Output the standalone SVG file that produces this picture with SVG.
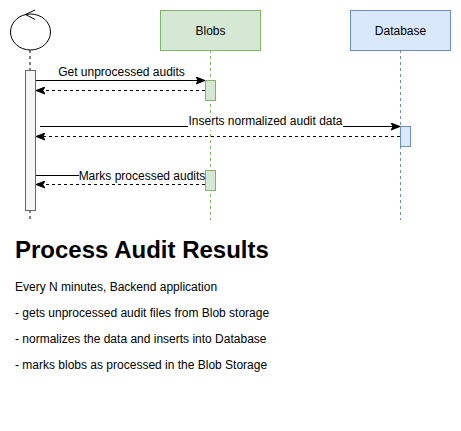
<svg xmlns="http://www.w3.org/2000/svg" width="461" height="431" viewBox="0 0 461 431">
<style>
text{font-family:"Liberation Sans",Arial,sans-serif;fill:#000}
.lbl{font-size:12px}
.box-g{fill:#d5e8d4;stroke:#82b366;stroke-width:1}
.box-b{fill:#dae8fc;stroke:#6c8ebf;stroke-width:1}
.life{fill:none;stroke-dasharray:3 3;stroke-width:1}
.msg{fill:none;stroke:#000;stroke-width:1;marker-end:url(#arr)}
.ret{fill:none;stroke:#000;stroke-width:1;stroke-dasharray:3 3;marker-end:url(#arr)}
</style>
<defs>
<marker id="arr" markerWidth="10" markerHeight="8" refX="9" refY="4" orient="auto" markerUnits="userSpaceOnUse">
<path d="M0,0.5 L9,4 L0,7.5 L2.2,4 Z" fill="#000" stroke="#000" stroke-width="1"/>
</marker>
</defs>
<rect width="461" height="431" fill="#fff"/>
<g id="control">
<ellipse cx="30.5" cy="32" rx="20" ry="18" fill="#fff" stroke="#000"/>
<polyline points="35,10 25.5,14.5 35,19.5" fill="none" stroke="#000"/>
<line x1="30" y1="50" x2="30" y2="70" class="life" stroke="#000"/>
<line x1="30" y1="210" x2="30" y2="220" class="life" stroke="#000"/>
<rect x="25.5" y="70.5" width="10" height="140" fill="#f5f5f5" stroke="#666"/>
</g>
<g id="blobs">
<line x1="210.5" y1="50" x2="210.5" y2="220" class="life" stroke="#82b366"/>
<rect x="160.5" y="10.5" width="100" height="40" class="box-g"/>
<text x="210.5" y="34.5" class="lbl" text-anchor="middle">Blobs</text>
<rect x="205.5" y="80.5" width="10" height="20" class="box-g"/>
<rect x="205.5" y="170.5" width="10" height="20" class="box-g"/>
</g>
<g id="database">
<line x1="400.5" y1="50" x2="400.5" y2="220" class="life" stroke="#6c8ebf"/>
<rect x="350.5" y="10.5" width="100" height="40" class="box-b"/>
<text x="400.5" y="34.5" class="lbl" text-anchor="middle">Database</text>
<rect x="400.5" y="126.5" width="10" height="20" class="box-b"/>
</g>
<g id="connectors">
<line x1="36" y1="80.5" x2="205" y2="80.5" class="msg"/>
<text x="121.5" y="76" class="lbl" text-anchor="middle">Get unprocessed audits</text>
<line x1="205" y1="90.5" x2="36" y2="90.5" class="ret"/>
<line x1="40" y1="126.5" x2="400" y2="126.5" class="msg"/>
<rect x="188" y="117" width="155" height="13" fill="#fff"/>
<text x="265.5" y="125" class="lbl" text-anchor="middle">Inserts normalized audit data</text>
<line x1="400" y1="136.5" x2="36" y2="136.5" class="ret"/>
<line x1="36" y1="175.5" x2="205" y2="175.5" class="msg"/>
<rect x="79" y="168" width="126" height="14" fill="#fff"/>
<text x="142" y="179.5" class="lbl" text-anchor="middle">Marks processed audits</text>
<line x1="205" y1="184.5" x2="36" y2="184.5" class="ret"/>
</g>
<g id="notes">
<text x="15" y="258" font-size="24" font-weight="bold">Process Audit Results</text>
<text x="15" y="290.5" class="lbl">Every N minutes, Backend application</text>
<text x="15" y="316.5" class="lbl">- gets unprocessed audit files from Blob storage</text>
<text x="15" y="342.5" class="lbl">- normalizes the data and inserts into Database</text>
<text x="15" y="368.5" class="lbl">- marks blobs as processed in the Blob Storage</text>
</g>
</svg>
